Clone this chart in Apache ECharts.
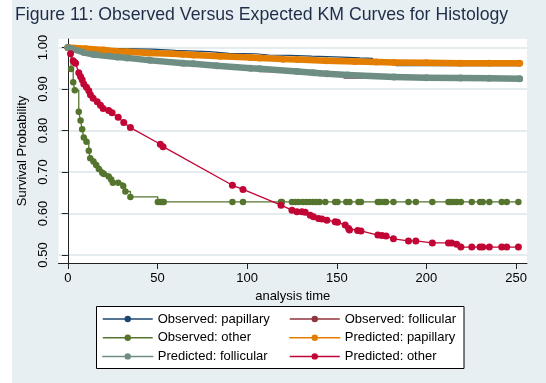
<!DOCTYPE html>
<html><head><meta charset="utf-8">
<script src="https://cdn.jsdelivr.net/npm/echarts@6/dist/echarts.min.js"></script>
<style>html,body{margin:0;padding:0;background:#fff}#c{width:546px;height:383px}</style>
</head><body><div id="c"></div>
<script>
// ---- tick labels ----
const xTicks = [0, 50, 100, 150, 200, 250];
const yTicks = [0.5, 0.6, 0.7, 0.8, 0.9, 1.0];

// ---- Observed: papillary (step) ----
const obsPapT = [0, 5, 20, 47, 60, 79, 90, 105, 112, 124, 136, 153, 163, 170, 178, 183, 215, 252];
const obsPapS = [1.0, 0.998, 0.996, 0.993, 0.990, 0.986, 0.985, 0.982, 0.981, 0.979, 0.977, 0.975, 0.974, 0.968, 0.962, 0.956, 0.956, 0.956];

// ---- Observed: follicular (step) ----
const obsFolT = [0, 3, 10, 20, 35, 50, 70, 90, 107, 126, 140, 154, 181, 220, 252];
const obsFolS = [1.0, 0.996, 0.986, 0.979, 0.972, 0.965, 0.955, 0.950, 0.942, 0.938, 0.932, 0.926, 0.923, 0.922, 0.922];

// ---- Observed: other (step) ----
const obsOthT = [0, 1.8, 3.0, 3.9, 6.1, 7.1, 8.0, 8.9, 10.4, 11.7, 12.5, 14.3, 15.8, 17.3, 19.2, 20.1, 22.8, 24.2, 25.1, 28.1, 30.9, 32.1, 34.9, 50.2, 51.5, 52.6, 53.5, 91.8, 97.7, 118.9, 119.4, 125.0, 126.9, 128.7, 131.1, 133.0, 134.8, 136.7, 138.6, 140.4, 143.6, 149.1, 150.4, 155.3, 157.1, 162.1, 163.5, 172.9, 174.2, 176.4, 177.5, 181.6, 190.0, 194.1, 203.3, 212.3, 213.6, 215.1, 216.9, 219.2, 225.3, 229.9, 231.4, 235.1, 242.0, 244.8, 251.3];
const obsOthS = [1.0, 0.948, 0.916, 0.897, 0.845, 0.824, 0.803, 0.783, 0.773, 0.751, 0.733, 0.725, 0.717, 0.707, 0.698, 0.695, 0.689, 0.682, 0.674, 0.674, 0.666, 0.653, 0.640, 0.628, 0.628, 0.628, 0.628, 0.628, 0.628, 0.628, 0.628, 0.628, 0.628, 0.628, 0.628, 0.628, 0.628, 0.628, 0.628, 0.628, 0.628, 0.628, 0.628, 0.628, 0.628, 0.628, 0.628, 0.628, 0.628, 0.628, 0.628, 0.628, 0.628, 0.628, 0.628, 0.628, 0.628, 0.628, 0.628, 0.628, 0.628, 0.628, 0.628, 0.628, 0.628, 0.628, 0.628];

// ---- Predicted: papillary ----
const prePapT = [0, 10, 20, 27, 33, 45, 58, 64, 70, 85, 102, 107, 120, 128, 144, 160, 172, 182, 200, 219, 235, 252];
const prePapS = [1.0, 0.997, 0.994, 0.991, 0.990, 0.987, 0.985, 0.984, 0.982, 0.979, 0.976, 0.975, 0.972, 0.971, 0.968, 0.966, 0.965, 0.964, 0.963, 0.962, 0.962, 0.962];

// ---- Predicted: follicular ----
const preFolT = [0, 2, 9, 14.5, 27.5, 33, 46, 64.5, 70, 83, 102, 107, 128, 137, 144.5, 156, 182, 200, 219, 235, 252];
const preFolS = [1.0, 0.997, 0.988, 0.983, 0.977, 0.975, 0.969, 0.962, 0.961, 0.956, 0.950, 0.949, 0.942, 0.939, 0.937, 0.934, 0.929, 0.927, 0.9265, 0.9258, 0.925];

// ---- Predicted: other ----
const preOthT = [1.5, 3.0, 3.9, 4.3, 6.1, 7.1, 8.0, 8.9, 10.4, 11.7, 12.6, 14.1, 16.4, 18.2, 19.7, 22.8, 24.7, 28.1, 31.2, 34.9, 51.6, 53.1, 91.8, 97.7, 118.9, 125.0, 127.8, 130.6, 132.4, 135.2, 137.0, 139.8, 141.7, 144.5, 149.1, 150.4, 154.7, 156.6, 157.1, 161.6, 163.5, 172.9, 175.2, 177.5, 181.6, 190.0, 194.1, 203.3, 212.3, 214.1, 216.9, 219.2, 225.3, 229.9, 231.4, 235.1, 242.0, 244.8, 251.3];
const preOthS = [0.985, 0.968, 0.964, 0.962, 0.939, 0.930, 0.922, 0.912, 0.904, 0.896, 0.886, 0.878, 0.869, 0.861, 0.853, 0.848, 0.843, 0.832, 0.819, 0.807, 0.767, 0.761, 0.668, 0.658, 0.620, 0.608, 0.604, 0.604, 0.603, 0.596, 0.592, 0.588, 0.587, 0.584, 0.580, 0.579, 0.572, 0.564, 0.560, 0.559, 0.558, 0.548, 0.547, 0.546, 0.539, 0.534, 0.534, 0.529, 0.529, 0.529, 0.526, 0.519, 0.519, 0.519, 0.519, 0.519, 0.519, 0.519, 0.519];

const names = ['Observed: papillary', 'Observed: follicular', 'Observed: other', 'Predicted: papillary', 'Predicted: follicular', 'Predicted: other'];
const colors = ['#1a476f', '#90353b', '#55752f', '#e37e00', '#6e8e84', '#c10534'];

function zip(t, s) { return t.map((v, i) => [v, s[i]]); }

const FONT = '"Liberation Sans", Arial, sans-serif';
const chart = echarts.init(document.getElementById('c'), null, { renderer: 'canvas' });

function mk(i, data, opts) {
  return Object.assign({
    name: names[i], type: 'line', data: data,
    color: colors[i],
    symbol: 'circle', showSymbol: true, showAllSymbol: true,
    itemStyle: { color: colors[i] },
    lineStyle: { color: colors[i], width: 1.3 },
    emphasis: { disabled: true },
    silent: true
  }, opts);
}

const legendCommon = {
  orient: 'vertical', itemWidth: 50, itemHeight: 8, itemGap: 4.7, padding: 0,
  textStyle: { fontFamily: FONT, fontSize: 13, color: '#000', lineHeight: 14 },
  lineStyle: { width: 1.5 },
  selectedMode: false
};

chart.setOption({
  animation: false,
  backgroundColor: '#e8eff2',
  textStyle: { fontFamily: FONT },
  graphic: [
    { type: 'rect', z: -10, shape: { x: 0, y: 0, width: 12, height: 383 }, style: { fill: '#ffffff' } },
    { type: 'rect', z: 0, shape: { x: 96.5, y: 306.5, width: 367.5, height: 62 }, style: { fill: '#ffffff', stroke: '#000', lineWidth: 1 } }
  ],
  title: {
    text: 'Figure 11: Observed Versus Expected KM Curves for Histology',
    left: 15, top: 6, padding: 0,
    textStyle: { fontFamily: FONT, fontSize: 17.7, fontWeight: 'normal', color: '#1e2d48' }
  },
  legend: [
    Object.assign({ left: 102, top: 312, data: ['Observed: papillary', 'Observed: other', 'Predicted: follicular'] }, legendCommon),
    Object.assign({ left: 289, top: 312, data: ['Observed: follicular', 'Predicted: papillary', 'Predicted: other'] }, legendCommon)
  ],
  grid: { left: 58.5, right: 19, top: 39, bottom: 120, show: true, backgroundColor: '#ffffff', borderWidth: 0, containLabel: false },
  xAxis: {
    type: 'value', min: -5.2, max: 256.1,
    name: 'analysis time', nameLocation: 'middle', nameGap: 18,
    nameTextStyle: { fontFamily: FONT, fontSize: 13, color: '#000' },
    axisLine: { show: true, lineStyle: { color: '#222', width: 1 } },
    axisTick: { show: true, length: 6, customValues: xTicks, lineStyle: { color: '#222' } },
    axisLabel: { customValues: xTicks, margin: 9, fontSize: 13, color: '#000', fontFamily: FONT },
    splitLine: { show: false }
  },
  yAxis: {
    type: 'value', min: 0.4807, max: 1.0205,
    name: 'Survival Probability', nameLocation: 'middle', nameGap: 20, nameRotate: 90,
    nameTextStyle: { fontFamily: FONT, fontSize: 13, color: '#000' },
    axisLine: { show: true, lineStyle: { color: '#222', width: 1 } },
    axisTick: { show: true, length: 6, customValues: yTicks, lineStyle: { color: '#222' } },
    axisLabel: { customValues: yTicks, rotate: 90, margin: 9, fontSize: 13, color: '#000', fontFamily: FONT,
      formatter: v => Number(v).toFixed(2) },
    splitLine: { show: true, lineStyle: { color: '#dce6eb', width: 1.5 } }
  },
  series: [
    mk(0, zip(obsPapT, obsPapS), { step: 'end', showSymbol: false, symbolSize: 5, lineStyle: { color: colors[0], width: 1.2 } }),
    mk(1, zip(obsFolT, obsFolS), { step: 'end', showSymbol: false, symbolSize: 5, lineStyle: { color: colors[1], width: 1.2 } }),
    mk(2, zip(obsOthT, obsOthS), { step: 'end', symbolSize: 6.5, lineStyle: { color: colors[2], width: 1.3 } }),
    mk(3, zip(prePapT, prePapS), { symbolSize: 7, lineStyle: { color: colors[3], width: 6.5, cap: 'round', join: 'round' } }),
    mk(4, zip(preFolT, preFolS), { symbolSize: 7, lineStyle: { color: colors[4], width: 6.5, cap: 'round', join: 'round' } }),
    mk(5, zip(preOthT, preOthS), { symbolSize: 7, lineStyle: { color: colors[5], width: 1.3 } })
  ]
});
</script></body></html>
